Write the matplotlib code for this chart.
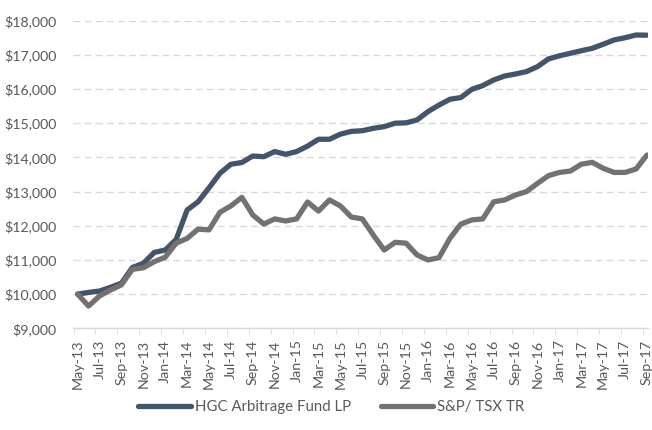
import matplotlib
matplotlib.use("Agg")
import matplotlib.pyplot as plt
from matplotlib.ticker import FuncFormatter, FixedLocator

months = ["May-13","Jun-13","Jul-13","Aug-13","Sep-13","Oct-13","Nov-13","Dec-13",
          "Jan-14","Feb-14","Mar-14","Apr-14","May-14","Jun-14","Jul-14","Aug-14",
          "Sep-14","Oct-14","Nov-14","Dec-14","Jan-15","Feb-15","Mar-15","Apr-15",
          "May-15","Jun-15","Jul-15","Aug-15","Sep-15","Oct-15","Nov-15","Dec-15",
          "Jan-16","Feb-16","Mar-16","Apr-16","May-16","Jun-16","Jul-16","Aug-16",
          "Sep-16","Oct-16","Nov-16","Dec-16","Jan-17","Feb-17","Mar-17","Apr-17",
          "May-17","Jun-17","Jul-17","Aug-17","Sep-17"]

hgc = [10000, 10050, 10090, 10200, 10320, 10780, 10900, 11220, 11290, 11600,
       12460, 12700, 13110, 13535, 13800, 13850, 14040, 14020, 14170, 14090,
       14170, 14330, 14530, 14530, 14680, 14760, 14780, 14850, 14900, 15000,
       15010, 15095, 15340, 15530, 15700, 15750, 15990, 16100, 16265, 16380,
       16440, 16510, 16655, 16880, 16970, 17045, 17120, 17190, 17310, 17435,
       17500, 17580, 17575]

tsx = [10000, 9650, 9945, 10120, 10270, 10725, 10770, 10950, 11080, 11490,
       11630, 11900, 11880, 12395, 12580, 12830, 12315, 12050, 12200, 12140,
       12200, 12695, 12430, 12755, 12580, 12255, 12200, 11730, 11290, 11515,
       11490, 11145, 11000, 11065, 11630, 12050, 12170, 12200, 12700, 12755,
       12900, 13000, 13240, 13465, 13560, 13600, 13800, 13855, 13680, 13560,
       13560, 13660, 14070]

series_names = ["HGC Arbitrage Fund LP", "S&P/ TSX TR"]
colors = ["#44546A", "#767171"]

plt.rcParams['font.family'] = ['Lato', 'DejaVu Sans']

fig = plt.figure(figsize=(6.52, 4.30), dpi=100)
ax = fig.add_axes([0.112, 0.2365, 0.882, 0.7155])

x = list(range(len(months)))
ax.plot(x, hgc, color=colors[0], lw=3.8, solid_capstyle='round', solid_joinstyle='round',
        label=series_names[0], zorder=3)
ax.plot(x, tsx, color=colors[1], lw=3.8, solid_capstyle='round', solid_joinstyle='round',
        label=series_names[1], zorder=3)

ax.set_ylim(9000, 18000)
ax.set_xlim(-0.42, 52.1)
ax.set_yticks(range(9000, 18001, 1000))
ax.yaxis.set_major_formatter(FuncFormatter(lambda v, p: "${:,.0f}".format(v)))
ax.yaxis.grid(True, color="#D9D9D9", lw=1.0, ls=(0, (5, 3)))
ax.set_axisbelow(True)

ax.set_xticks(x[::2])
ax.set_xticklabels(months[::2], rotation=90)
ax.xaxis.set_minor_locator(FixedLocator([i - 0.37 for i in x[::2]]))
ax.tick_params(axis='x', which='major', length=0, pad=8, labelsize=10.3, colors="#595959")
ax.tick_params(axis='x', which='minor', length=4, color="#D9D9D9")
ax.tick_params(axis='y', length=0, labelsize=10.2, colors="#595959", pad=12)

for s in ["top", "right", "left"]:
    ax.spines[s].set_visible(False)
ax.spines["bottom"].set_color("#D9D9D9")
ax.spines["bottom"].set_linewidth(1.0)

fig.legend(loc="center", bbox_to_anchor=(0.508, 0.054), ncol=2, frameon=False,
           fontsize=10.8, handlelength=3.5, columnspacing=2.0, handletextpad=0.25,
           labelcolor="#595959")

fig.savefig("out.png", dpi=100)
